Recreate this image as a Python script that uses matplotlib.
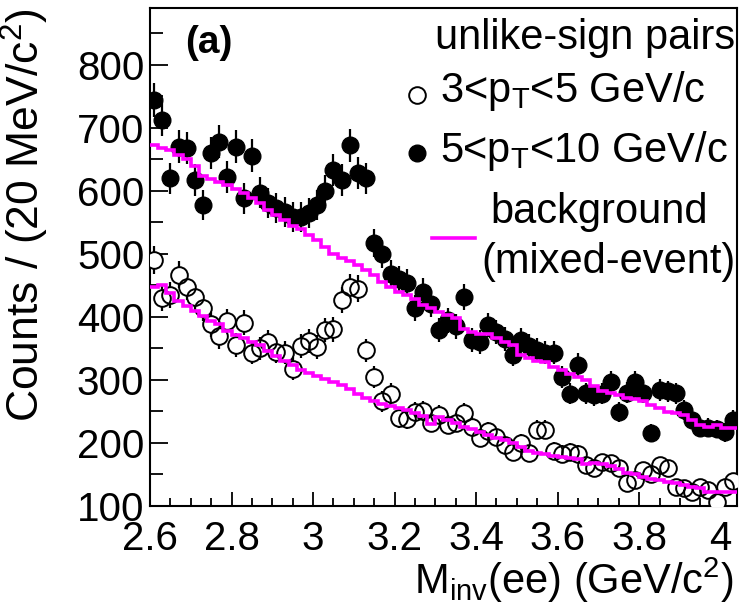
import numpy as np
import matplotlib
matplotlib.use("Agg")
import matplotlib.pyplot as plt
from matplotlib import ticker

plt.rcParams["font.family"] = ["Liberation Sans", "DejaVu Sans"]
plt.rcParams["mathtext.fontset"] = "custom"
plt.rcParams["mathtext.rm"] = "Liberation Sans"
plt.rcParams["mathtext.it"] = "Liberation Sans:italic"

# 20 MeV bins from 2.60 to 4.04 GeV/c^2
bin_edges = np.round(np.arange(2.60, 4.0401, 0.02), 2)

# unlike-sign pairs, 3 < pT < 5 GeV/c (open circles)
counts_low = [490, 430, 435, 467, 448, 432, 414, 388, 369, 393, 356, 391,
              343, 350, 360, 345, 343, 318, 354, 362, 352, 379, 380, 427,
              447, 445, 347, 304, 266, 278, 240, 238, 249, 250, 232, 245,
              229, 232, 248, 226, 208, 219, 209, 197, 186, 200, 184, 221,
              221, 188, 183, 186, 183, 165, 160, 170, 168, 160, 137, 142,
              157, 150, 165, 160, 130, 128, 122, 130, 125, 107, 130, 139]

# unlike-sign pairs, 5 < pT < 10 GeV/c (filled circles)
counts_high = [744, 713, 620, 670, 668, 617, 578, 660, 678, 622, 670, 588,
               656, 597, 581, 573, 567, 559, 559, 565, 578, 600, 633, 617,
               672, 628, 620, 517, 500, 468, 460, 454, 414, 440, 420, 379,
               395, 385, 432, 363, 360, 387, 376, 365, 340, 363, 354, 348,
               343, 343, 305, 278, 324, 279, 276, 278, 297, 249, 280, 297,
               280, 216, 284, 282, 279, 252, 237, 224, 224, 222, 217, 237]

# mixed-event background histograms
bkg_low = [447, 451, 438, 425, 418, 410, 402, 394, 388, 377, 372, 367,
           360, 356, 346, 338, 330, 323, 316, 311, 306, 301, 297, 292,
           286, 278, 272, 267, 262, 258, 256, 252, 248, 242, 230, 241,
           236, 232, 226, 222, 217, 212, 208, 204, 200, 193, 188, 184,
           182, 180, 177, 176, 175, 166, 168, 167, 164, 158, 153, 150,
           146, 143, 141, 138, 136, 133, 130, 128, 123, 122, 122, 122]

bkg_high = [672, 668, 664, 657, 650, 640, 624, 618, 614, 609, 603, 596,
            588, 580, 570, 562, 554, 544, 540, 530, 522, 511, 500, 494,
            488, 483, 475, 467, 456, 448, 440, 434, 428, 419, 414, 408,
            403, 398, 380, 376, 373, 373, 366, 360, 355, 340, 335, 330,
            328, 320, 316, 310, 305, 300, 290, 283, 280, 276, 271, 269,
            266, 260, 255, 249, 248, 245, 237, 229, 226, 229, 224, 223]

x_ticks = [2.6, 2.8, 3.0, 3.2, 3.4, 3.6, 3.8, 4.0]
y_ticks = [100, 200, 300, 400, 500, 600, 700, 800]

MAGENTA = "#ff00ff"
FS = 29
FS_LEG = 30

x = 0.5 * (bin_edges[:-1] + bin_edges[1:])
lo = np.array(counts_low, dtype=float)
hi = np.array(counts_high, dtype=float)

fig = plt.figure(figsize=(7.41, 6.05), dpi=100)
ax = fig.add_axes([150 / 741, 1 - 506 / 605, 587 / 741, 498 / 605])

ms = 12
# open circles: error bars hidden inside the marker, all outlines visible
ax.errorbar(x, lo, yerr=np.sqrt(lo), fmt="none", ecolor="black",
            elinewidth=1.6, capsize=0, zorder=2)
ax.plot(x, lo, "o", ms=ms, mfc="white", mec="white", mew=0, zorder=3)
ax.plot(x, lo, "o", ms=ms, mfc="none", mec="black", mew=1.4, zorder=4)

ax.errorbar(x, hi, yerr=np.sqrt(hi), fmt="o", ms=ms, mfc="black",
            mec="black", ecolor="black", elinewidth=1.6, capsize=0, zorder=5)

ax.stairs(bkg_low, bin_edges, baseline=None, color=MAGENTA, lw=2.6, zorder=6)
ax.stairs(bkg_high, bin_edges, baseline=None, color=MAGENTA, lw=2.6, zorder=6)

ax.set_xlim(2.6, 4.04)
ax.set_ylim(100, 890)
ax.set_xticks(x_ticks)
ax.set_yticks(y_ticks)
ax.xaxis.set_minor_locator(ticker.MultipleLocator(0.05))
ax.yaxis.set_minor_locator(ticker.MultipleLocator(50))
fmt = ticker.FuncFormatter(lambda v, p: f"{v:g}")
ax.xaxis.set_major_formatter(fmt)
ax.yaxis.set_major_formatter(fmt)
ax.tick_params(which="both", direction="in", labelsize=FS, width=1.3,
               top=False, right=False)
ax.tick_params(axis="x", which="major", length=10, pad=10)
ax.tick_params(axis="x", which="minor", length=6)
ax.tick_params(axis="y", which="major", length=13, pad=4)
ax.tick_params(axis="y", which="minor", length=9)
for s in ax.spines.values():
    s.set_linewidth(1.5)

ax.set_xlabel(r"M$_{\rm inv}$(ee) (GeV/c$^{2}$)", fontsize=30, ha="right")
ax.xaxis.set_label_coords(0.995, -0.1)
ax.set_ylabel(r"Counts / (20 MeV/c$^{2}$)", fontsize=32, ha="right")
ax.yaxis.set_label_coords(-0.168, 1.0)

ax.text(0.06, 0.93, "(a)", transform=ax.transAxes, fontsize=28,
        fontweight="bold", ha="left", va="center")

# legend drawn by hand
tr = ax.transAxes
ax.text(0.997, 0.940, "unlike-sign pairs", transform=tr, fontsize=FS_LEG,
        ha="right", va="center")
ax.plot([0.455], [0.826], "o", ms=ms, mfc="none", mec="black", mew=1.4,
        transform=tr, clip_on=False)
ax.text(0.494, 0.833, r"3<p$_{\rm T}$<5 GeV/c", transform=tr, fontsize=FS_LEG,
        ha="left", va="center")
ax.plot([0.455], [0.709], "o", ms=ms, mfc="black", mec="black",
        transform=tr, clip_on=False)
ax.text(0.494, 0.713, r"5<p$_{\rm T}$<10 GeV/c", transform=tr, fontsize=FS_LEG,
        ha="left", va="center")
ax.plot([0.480, 0.554], [0.538, 0.538], color=MAGENTA, lw=2.6,
        transform=tr, clip_on=False)
ax.text(0.765, 0.590, "background", transform=tr, fontsize=FS_LEG,
        ha="center", va="center")
ax.text(0.997, 0.490, "(mixed-event)", transform=tr, fontsize=FS_LEG,
        ha="right", va="center")

fig.savefig("out.png", dpi=100)
